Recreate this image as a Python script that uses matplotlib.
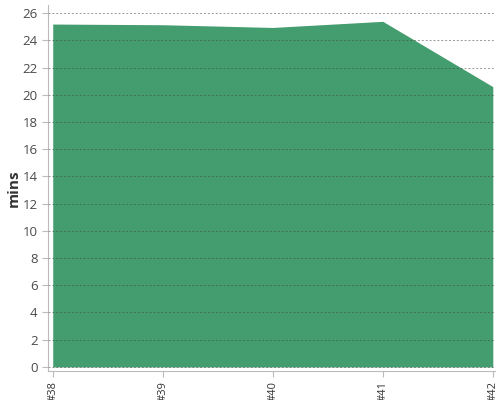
import matplotlib
matplotlib.use("Agg")
import matplotlib.pyplot as plt

categories = ["#38", "#39", "#40", "#41", "#42"]
values = [25.2, 25.15, 24.95, 25.4, 20.6]
yticks = list(range(0, 27, 2))

plt.rcParams['font.family'] = ['Open Sans', 'DejaVu Sans']
fig = plt.figure(figsize=(5, 4), dpi=100)
ax = fig.add_axes([0.096, 0.0725, 0.894, 0.915])
x = list(range(len(categories)))
ax.fill_between(x, 0, values, color="#449d6e", linewidth=0, zorder=1)
ax.set_xlim(-0.043, 4.02)
ax.set_ylim(-0.3, 26.6)
ax.set_yticks(yticks)
ax.set_xticks(x)
ax.set_xticklabels(categories, rotation=90, fontsize=8, color="#333333")
ax.tick_params(axis='y', labelsize=9.5, colors="#4a4a4a", length=4, color="#bbbbbb")
ax.tick_params(axis='x', length=4, color="#bbbbbb")
ax.grid(axis='y', linestyle=(0, (2, 2)), color="#444444", alpha=0.55, linewidth=0.7, zorder=2)
ax.set_axisbelow(False)
for s in ['top', 'right']:
    ax.spines[s].set_visible(False)
for s in ['left', 'bottom']:
    ax.spines[s].set_color("#bbbbbb")
ax.set_ylabel("mins", fontsize=11, fontweight='bold', color="#333333", labelpad=1)
fig.savefig("out.png", dpi=100)
